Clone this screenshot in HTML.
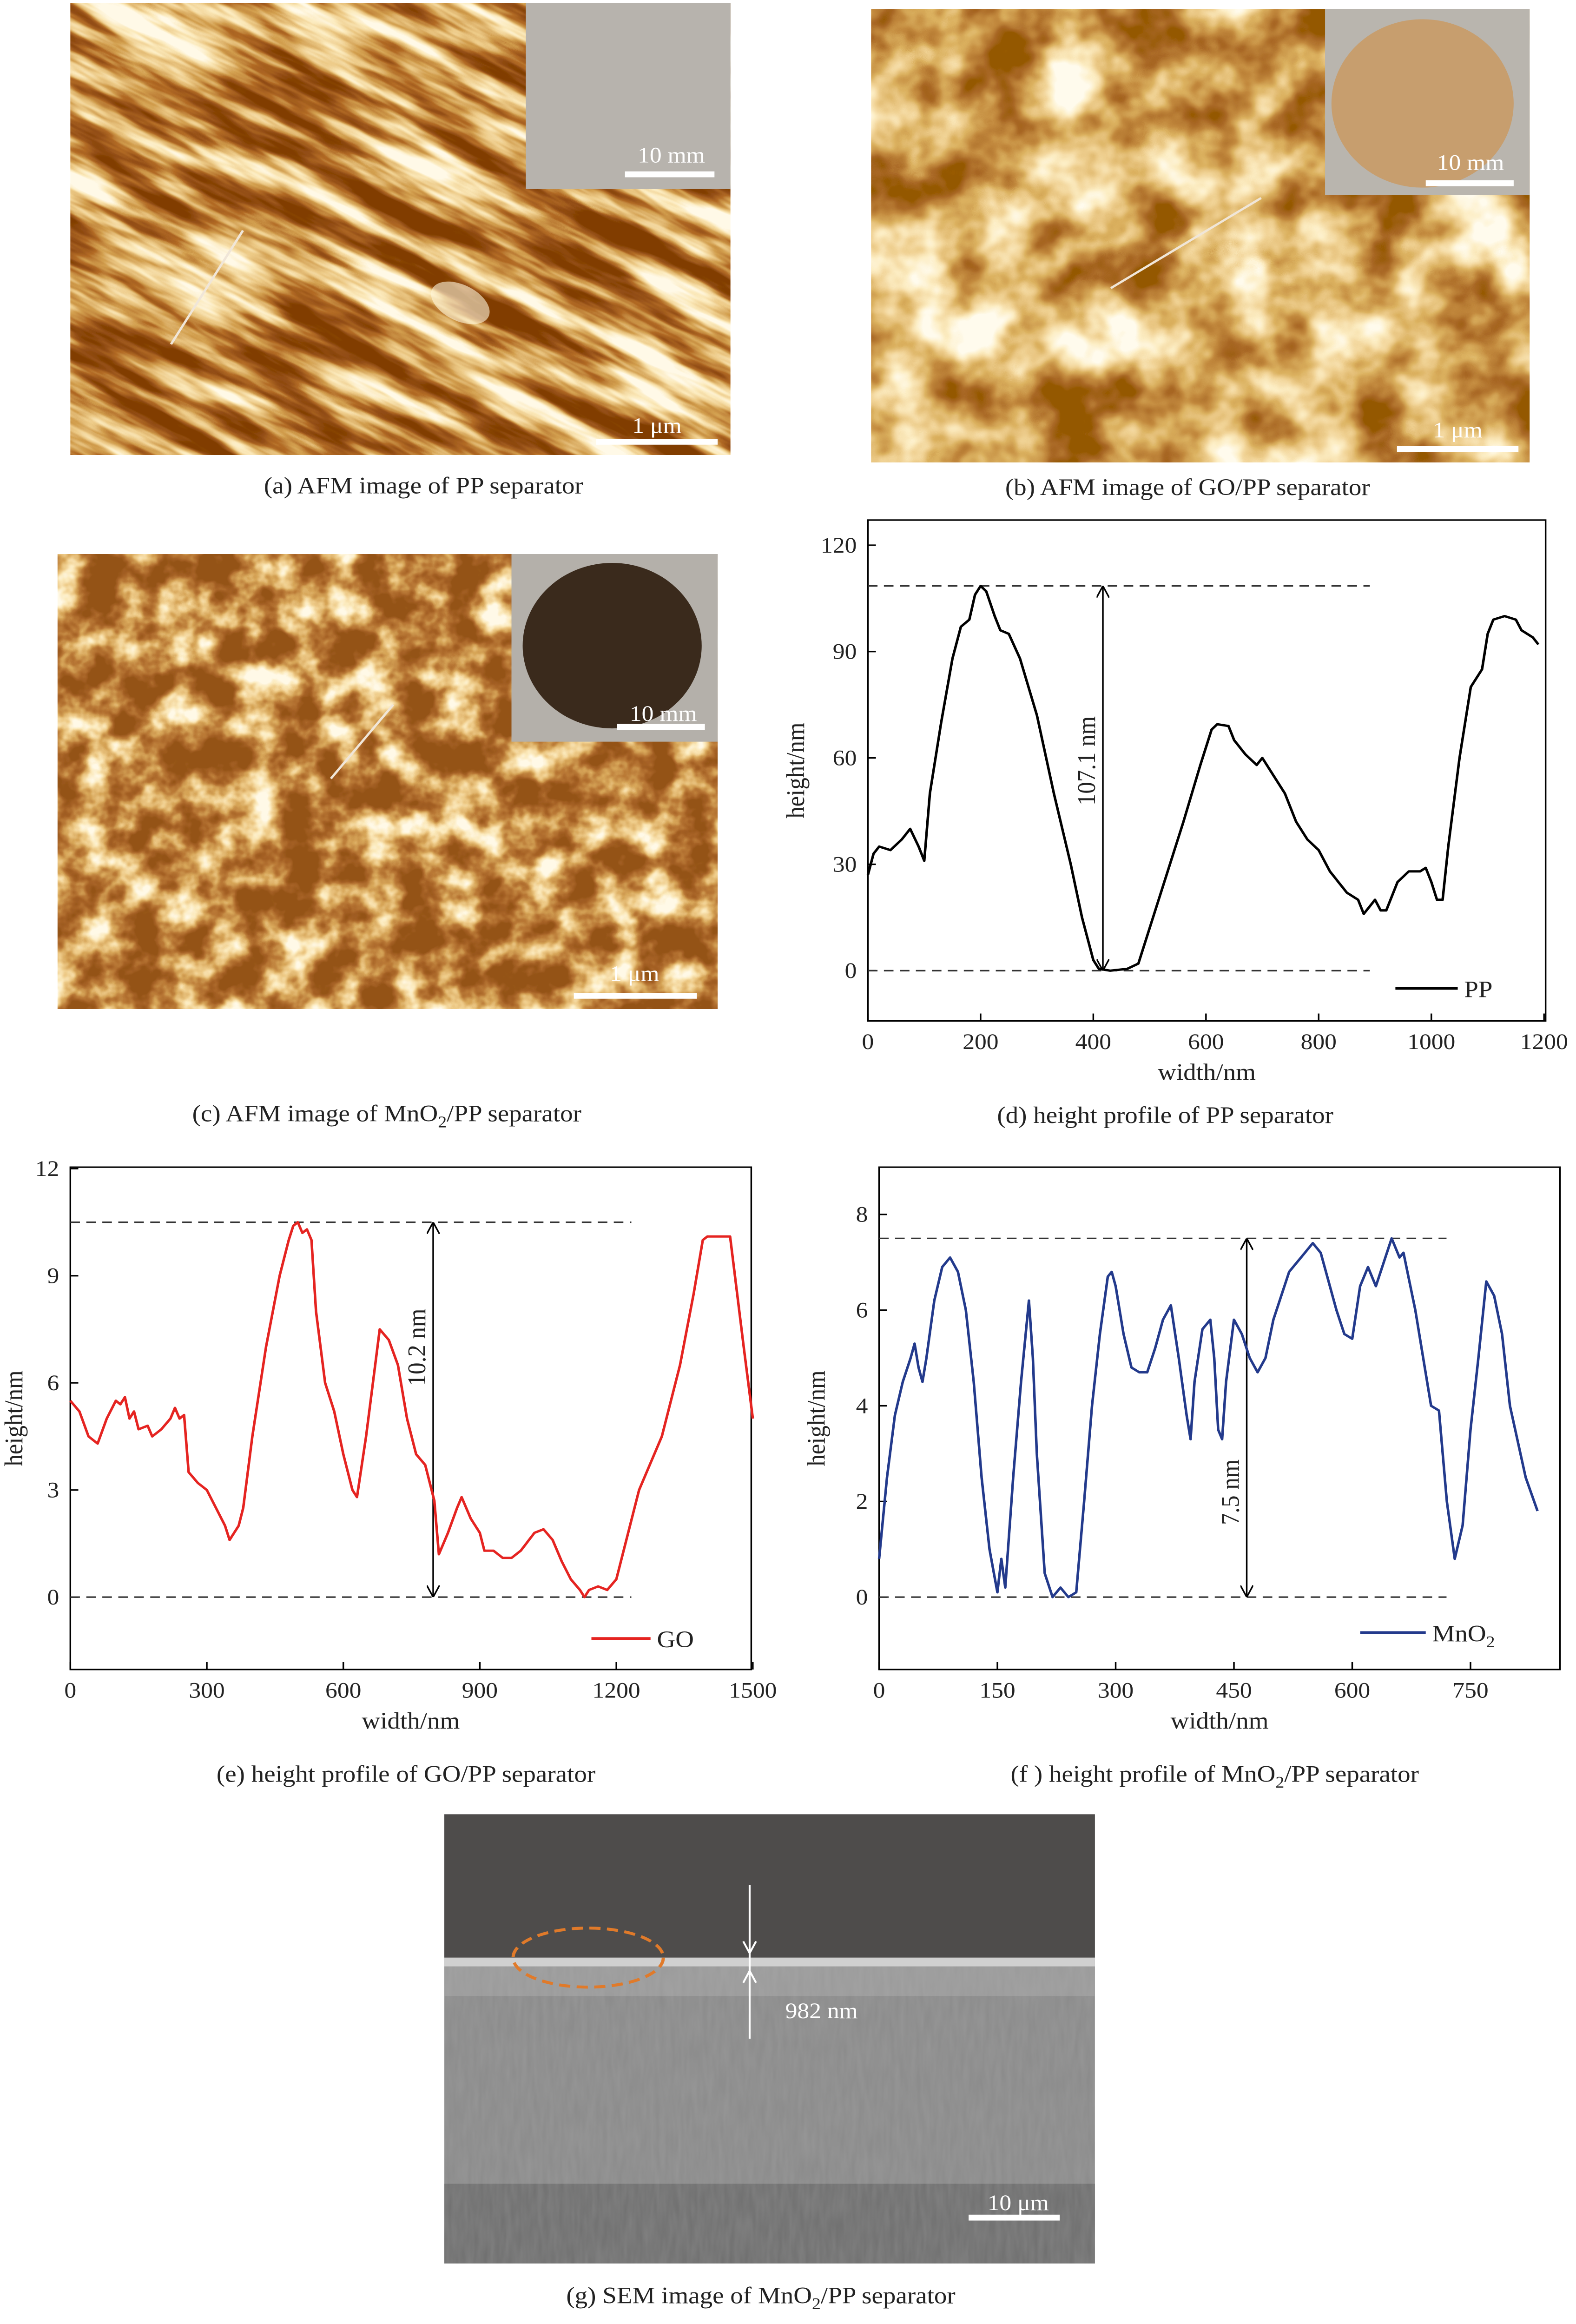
<!DOCTYPE html>
<html><head><meta charset="utf-8">
<style>
html,body{margin:0;padding:0;background:#fff;overflow:hidden;width:100vw;height:100vh;}
svg{display:block;width:100vw;height:100vh;}
text{font-family:"Liberation Serif",serif;fill:#222;}
</style></head>
<body>
<svg id="fig" viewBox="0 0 986 1573" preserveAspectRatio="none" xmlns="http://www.w3.org/2000/svg">
<defs>
  <filter id="afmA" x="0" y="0" width="100%" height="100%">
    <feTurbulence type="fractalNoise" baseFrequency="0.01 0.06" numOctaves="4" seed="3"/>
    <feColorMatrix type="matrix" values="1 0 0 0 0 1 0 0 0 0 1 0 0 0 0 0 0 0 0 1"/>
    <feComponentTransfer>
      <feFuncR type="linear" slope="2.4" intercept="-0.75"/>
      <feFuncG type="linear" slope="2.4" intercept="-0.75"/>
      <feFuncB type="linear" slope="2.4" intercept="-0.75"/>
    </feComponentTransfer>
    <feComponentTransfer>
      <feFuncR type="table" tableValues="0.22 0.3 0.45 0.65 0.85 0.97 1"/>
      <feFuncG type="table" tableValues="0.05 0.08 0.15 0.35 0.6 0.82 0.95"/>
      <feFuncB type="table" tableValues="0 0.01 0.02 0.08 0.25 0.5 0.8"/>
    </feComponentTransfer>
  </filter>
  <filter id="afmB" x="0" y="0" width="100%" height="100%">
    <feTurbulence type="fractalNoise" baseFrequency="0.02" numOctaves="4" seed="8"/>
    <feColorMatrix type="matrix" values="1 0 0 0 0 1 0 0 0 0 1 0 0 0 0 0 0 0 0 1"/>
    <feComponentTransfer>
      <feFuncR type="linear" slope="2.2" intercept="-0.62"/>
      <feFuncG type="linear" slope="2.2" intercept="-0.62"/>
      <feFuncB type="linear" slope="2.2" intercept="-0.62"/>
    </feComponentTransfer>
    <feComponentTransfer>
      <feFuncR type="table" tableValues="0.3 0.4 0.55 0.72 0.88 0.98 1"/>
      <feFuncG type="table" tableValues="0.1 0.14 0.26 0.45 0.65 0.85 0.97"/>
      <feFuncB type="table" tableValues="0 0.02 0.05 0.12 0.3 0.55 0.85"/>
    </feComponentTransfer>
  </filter>
  <filter id="afmC" x="0" y="0" width="100%" height="100%">
    <feTurbulence type="fractalNoise" baseFrequency="0.04" numOctaves="4" seed="12"/>
    <feColorMatrix type="matrix" values="1 0 0 0 0 1 0 0 0 0 1 0 0 0 0 0 0 0 0 1"/>
    <feComponentTransfer>
      <feFuncR type="linear" slope="2.4" intercept="-0.85"/>
      <feFuncG type="linear" slope="2.4" intercept="-0.85"/>
      <feFuncB type="linear" slope="2.4" intercept="-0.85"/>
    </feComponentTransfer>
    <feComponentTransfer>
      <feFuncR type="table" tableValues="0.3 0.38 0.5 0.68 0.86 0.97 1"/>
      <feFuncG type="table" tableValues="0.09 0.12 0.2 0.38 0.6 0.82 0.95"/>
      <feFuncB type="table" tableValues="0.01 0.02 0.04 0.1 0.25 0.5 0.8"/>
    </feComponentTransfer>
  </filter>
  <filter id="semN" x="0" y="0" width="100%" height="100%">
    <feTurbulence type="fractalNoise" baseFrequency="0.3 0.05" numOctaves="2" seed="4"/>
    <feColorMatrix type="matrix" values="0 0 0 0 0.5 0 0 0 0 0.5 0 0 0 0 0.5 0.25 0 0 0 0"/>
  </filter>
  <marker id="ar" markerWidth="8" markerHeight="8" refX="8" refY="4" orient="auto-start-reverse" markerUnits="userSpaceOnUse"><path d="M0,0 L8,4 L0,8" fill="none" stroke="#000" stroke-width="1"/></marker>
  <clipPath id="clA"><rect x="44" y="2" width="413" height="306"/></clipPath>
  <clipPath id="clB"><rect x="545" y="6" width="412" height="307"/></clipPath>
  <clipPath id="clC"><rect x="36" y="375" width="413" height="308"/></clipPath>
</defs>

<!-- (a) -->
<g>
  <g clip-path="url(#clA)"><rect x="-100" y="-100" width="700" height="600" filter="url(#afmA)" transform="rotate(28 250 155)"/></g>
  <ellipse cx="288" cy="205" rx="20" ry="12" fill="#fff6dc" opacity="0.6" transform="rotate(30 288 205)"/>
  <rect x="329" y="2" width="128" height="126" fill="#b7b3ad"/>
  <text x="420" y="110" font-size="15" text-anchor="middle" style="fill:#fff">10 mm</text>
  <rect x="391" y="116" width="56" height="4" fill="#fff"/>
  <line x1="107" y1="233" x2="152" y2="156" stroke="#f0e6d8" stroke-width="1.5"/>
  <text x="411" y="293" font-size="15" text-anchor="middle" style="fill:#fff">1 μm</text>
  <rect x="373" y="297" width="76" height="4" fill="#fff"/>
  <text x="265" y="334" font-size="16" text-anchor="middle">(a) AFM image of PP separator</text>
</g>

<!-- (b) -->
<g>
  <g clip-path="url(#clB)"><rect x="545" y="6" width="412" height="307" filter="url(#afmB)"/></g>
  <rect x="829" y="6" width="128" height="126" fill="#b9b5ae"/>
  <circle cx="890" cy="70" r="57" fill="#c79e6e"/>
  <text x="920" y="115" font-size="15" text-anchor="middle" style="fill:#fff">10 mm</text>
  <rect x="892" y="122" width="55" height="4" fill="#fff"/>
  <line x1="695" y1="195" x2="789" y2="134" stroke="#f0e6d8" stroke-width="1.5"/>
  <text x="912" y="296" font-size="15" text-anchor="middle" style="fill:#fff">1 μm</text>
  <rect x="874" y="302" width="76" height="4" fill="#fff"/>
  <text x="743" y="335" font-size="16" text-anchor="middle">(b) AFM image of GO/PP separator</text>
</g>

<!-- (c) -->
<g>
  <g clip-path="url(#clC)"><rect x="36" y="375" width="413" height="308" filter="url(#afmC)"/></g>
  <rect x="320" y="375" width="129" height="127" fill="#b4b0aa"/>
  <circle cx="383" cy="437" r="56" fill="#3a2a1c"/>
  <text x="415" y="488" font-size="15" text-anchor="middle" style="fill:#fff">10 mm</text>
  <rect x="386" y="490" width="55" height="4" fill="#fff"/>
  <line x1="207" y1="527" x2="246" y2="477" stroke="#f0e6d8" stroke-width="1.5"/>
  <text x="397" y="664" font-size="15" text-anchor="middle" style="fill:#fff">1 μm</text>
  <rect x="359" y="672" width="77" height="4" fill="#fff"/>
  <text x="242" y="759" font-size="16" text-anchor="middle">(c) AFM image of MnO<tspan font-size="11" dy="4">2</tspan><tspan dy="-4">/PP separator</tspan></text>
</g>

<g id="chartD"></g>
<g id="chartE"></g>
<g id="chartF"></g>

<text x="729" y="760" font-size="16" text-anchor="middle">(d) height profile of PP separator</text>
<text x="254" y="1206" font-size="16" text-anchor="middle">(e) height profile of GO/PP separator</text>
<text x="760" y="1206" font-size="16" text-anchor="middle">(f ) height profile of MnO<tspan font-size="11" dy="4">2</tspan><tspan dy="-4">/PP separator</tspan></text>

<!-- (g) SEM -->
<g>
  <rect x="278" y="1228" width="407" height="304" fill="#8a8a8a"/>
  <rect x="278" y="1228" width="407" height="97" fill="#4e4c4b"/>
  <rect x="278" y="1325" width="407" height="6" fill="#d0d0d0"/>
  <rect x="278" y="1331" width="407" height="20" fill="#9a9a9a"/>
  <rect x="278" y="1478" width="407" height="54" fill="#6e6e6e"/>
  <rect x="278" y="1331" width="407" height="201" filter="url(#semN)"/>
  <ellipse cx="368" cy="1325" rx="47" ry="20" fill="none" stroke="#e07a2a" stroke-width="2" stroke-dasharray="7,4"/>
  <line x1="469" y1="1276" x2="469" y2="1380" stroke="#fff" stroke-width="1.2"/>
  <path d="M465,1314 L469,1322 L473,1314 M465,1342 L469,1334 L473,1342" fill="none" stroke="#fff" stroke-width="1.2"/>
  <text x="514" y="1366" font-size="15" text-anchor="middle" style="fill:#fff">982 nm</text>
  <text x="637" y="1496" font-size="15" text-anchor="middle" style="fill:#fff">10 μm</text>
  <rect x="606" y="1499" width="57" height="4" fill="#fff"/>
  <text x="476" y="1559" font-size="16" text-anchor="middle">(g) SEM image of  MnO<tspan font-size="11" dy="4">2</tspan><tspan dy="-4">/PP separator</tspan></text>
</g>
</svg>

<script>
const ppX=[0,10,20,40,60,75,90,100,110,130,150,165,180,190,200,210,225,235,250,270,300,330,360,380,400,410,430,460,480,500,530,560,590,610,620,640,650,670,690,700,720,740,760,780,800,820,850,870,880,900,910,920,940,960,980,990,1000,1010,1020,1030,1050,1070,1090,1100,1110,1130,1150,1160,1180,1190];
const ppY=[27,33,35,34,37,40,35,31,50,70,88,97,99,106,108.5,107,100,96,95,88,72,50,30,15,3,0.5,0,0.5,2,12,27,42,58,68,69.5,69,65,61,58,60,55,50,42,37,34,28,22,20,16,20,17,17,25,28,28,29,25,20,20,35,60,80,85,95,99,100,99,96,94,92];
const ppXTicks=[0,200,400,600,800,1000,1200];
const ppYTicks=[0,30,60,90,120];

const goX=[0,20,40,60,80,100,110,120,130,140,150,170,180,200,220,230,240,250,260,280,300,320,340,350,370,380,400,430,460,480,490,500,510,520,530,540,560,580,600,620,630,650,670,680,700,720,740,760,780,800,810,830,850,860,880,900,910,930,950,970,990,1020,1040,1060,1080,1100,1120,1130,1140,1160,1180,1200,1220,1250,1300,1340,1370,1390,1400,1450,1480,1500];
const goY=[5.5,5.2,4.5,4.3,5,5.5,5.4,5.6,5,5.2,4.7,4.8,4.5,4.7,5,5.3,5,5.1,3.5,3.2,3,2.5,2,1.6,2,2.5,4.5,7,9,10,10.4,10.5,10.2,10.3,10,8,6,5.2,4,3,2.8,4.5,6.5,7.5,7.2,6.5,5,4,3.7,2.7,1.2,1.8,2.5,2.8,2.2,1.8,1.3,1.3,1.1,1.1,1.3,1.8,1.9,1.6,1,0.5,0.2,0,0.2,0.3,0.2,0.5,1.5,3,4.5,6.5,8.5,10,10.1,10.1,7,5];
const goXTicks=[0,300,600,900,1200,1500];
const goYTicks=[0,3,6,9,12];

const mnX=[0,10,20,30,40,45,50,55,60,70,80,90,100,110,120,130,140,150,155,160,170,180,190,195,200,210,220,230,240,250,260,270,280,290,295,300,310,320,330,340,350,360,370,380,390,395,400,410,420,425,430,435,440,450,460,470,480,490,500,520,540,550,560,570,580,590,600,610,620,630,640,650,660,665,670,680,690,700,710,720,730,740,750,760,770,780,790,800,820,835];
const mnY=[0.8,2.5,3.8,4.5,5,5.3,4.8,4.5,5,6.2,6.9,7.1,6.8,6,4.5,2.5,1,0.1,0.8,0.2,2.5,4.5,6.2,5,3,0.5,0,0.2,0,0.1,2,4,5.5,6.7,6.8,6.5,5.5,4.8,4.7,4.7,5.2,5.8,6.1,5,3.8,3.3,4.5,5.6,5.8,5,3.5,3.3,4.5,5.8,5.5,5,4.7,5,5.8,6.8,7.2,7.4,7.2,6.6,6,5.5,5.4,6.5,6.9,6.5,7,7.5,7.1,7.2,6.8,6,5,4,3.9,2,0.8,1.5,3.5,5,6.6,6.3,5.5,4,2.5,1.8];
const mnXTicks=[0,150,300,450,600,750];
const mnYTicks=[0,2,4,6,8];

const NS="http://www.w3.org/2000/svg";
function mk(parent,tag,attrs,txt){const e=document.createElementNS(NS,tag);for(const k in attrs)e.setAttribute(k,attrs[k]);if(txt!==undefined)e.textContent=txt;parent.appendChild(e);return e;}

function chart(g,c){
  const sx=v=>c.px0+(v-c.x0)*(c.px1-c.px0)/(c.x1-c.x0);
  const sy=v=>c.py0+(v-c.y0)*(c.py1-c.py0)/(c.y1-c.y0);
  const box=mk(g,'rect',{x:c.bx0,y:c.by0,width:c.bx1-c.bx0,height:c.by1-c.by0,fill:'none',stroke:'#000','stroke-width':1});
  
  
  c.xt.forEach(t=>{
    mk(g,'line',{x1:sx(t),x2:sx(t),y1:c.by1,y2:c.by1-5,stroke:'#000'});
    const l=mk(g,'text',{x:sx(t),y:c.by1+19,'font-size':15,'text-anchor':'middle'},String(t));
    
    
  });
  c.yt.forEach(t=>{
    mk(g,'line',{x1:c.bx0,x2:c.bx0+5,y1:sy(t),y2:sy(t),stroke:'#000'});
    const l=mk(g,'text',{x:c.bx0-7,y:sy(t)+5,'font-size':15,'text-anchor':'end'},String(t));
    
    
  });
  const yl=mk(g,'text',{x:0,y:0,'font-size':16,'text-anchor':'middle',transform:`translate(${c.ylx},${(c.by0+c.by1)/2}) rotate(-90)`},'height/nm');
  
  
  const xl=mk(g,'text',{x:(c.bx0+c.bx1)/2,y:c.by1+40,'font-size':16,'text-anchor':'middle'},'width/nm');
  
  
  const top=Math.max(...c.ys), bot=Math.min(...c.ys);
  const d1=mk(g,'line',{x1:c.bx0,x2:c.dashEnd,y1:sy(top),y2:sy(top),stroke:'#333','stroke-dasharray':'6,4'});
  
  
  const d2=mk(g,'line',{x1:c.bx0,x2:c.dashEnd,y1:sy(bot),y2:sy(bot),stroke:'#333','stroke-dasharray':'6,4'});
  
  
  const ar=mk(g,'line',{x1:c.arX,x2:c.arX,y1:sy(top),y2:sy(bot),stroke:'#000','marker-start':'url(#ar)','marker-end':'url(#ar)'});
  
  
  const al=mk(g,'text',{x:0,y:0,'font-size':16,'text-anchor':'middle',transform:`translate(${c.arX-5},${c.alY}) rotate(-90)`},c.label);
  
  
  const pts=c.xs.map((x,i)=>sx(x).toFixed(2)+','+sy(c.ys[i]).toFixed(2)).join(' ');
  const pl=mk(g,'polyline',{points:pts,fill:'none',stroke:c.color,'stroke-width':1.6,'stroke-linejoin':'round'});
  
  
  const lg=mk(g,'line',{x1:c.lgx0,x2:c.lgx1,y1:c.lgy,y2:c.lgy,stroke:c.color,'stroke-width':1.8});
  
  
  const lt=mk(g,'text',{x:c.lgx1+4,y:c.lgy+6,'font-size':16},'');
  
  
  if(c.name==='MnO2'){lt.textContent='MnO';mk(lt,'tspan',{'font-size':11,dy:4},'2');}else lt.textContent=c.name;
}

chart(document.getElementById('chartD'),{bx0:543,bx1:967,by0:352,by1:691,x0:0,x1:1200,px0:543,px1:966,y0:0,y1:120,py0:657,py1:369,
  xs:ppX,ys:ppY,xt:ppXTicks,yt:ppYTicks,color:'#000',name:'PP',label:'107.1 nm',arX:690,alY:515,dashEnd:857,ylx:503,lgx0:873,lgx1:912,lgy:669});
chart(document.getElementById('chartE'),{bx0:44,bx1:470,by0:790,by1:1130,x0:0,x1:1500,px0:44,px1:471,y0:0,y1:12,py0:1081,py1:791,
  xs:goX,ys:goY,xt:goXTicks,yt:goYTicks,color:'#e52421',name:'GO',label:'10.2 nm',arX:271,alY:912,dashEnd:395,ylx:14,lgx0:370,lgx1:407,lgy:1109});
chart(document.getElementById('chartF'),{bx0:550,bx1:976,by0:790,by1:1130,x0:0,x1:750,px0:550,px1:920,y0:0,y1:8,py0:1081,py1:822,
  xs:mnX,ys:mnY,xt:mnXTicks,yt:mnYTicks,color:'#233a8c',name:'MnO2',label:'7.5 nm',arX:780,alY:1010,dashEnd:905,ylx:516,lgx0:851,lgx1:892,lgy:1105});
</script>
</body></html>
